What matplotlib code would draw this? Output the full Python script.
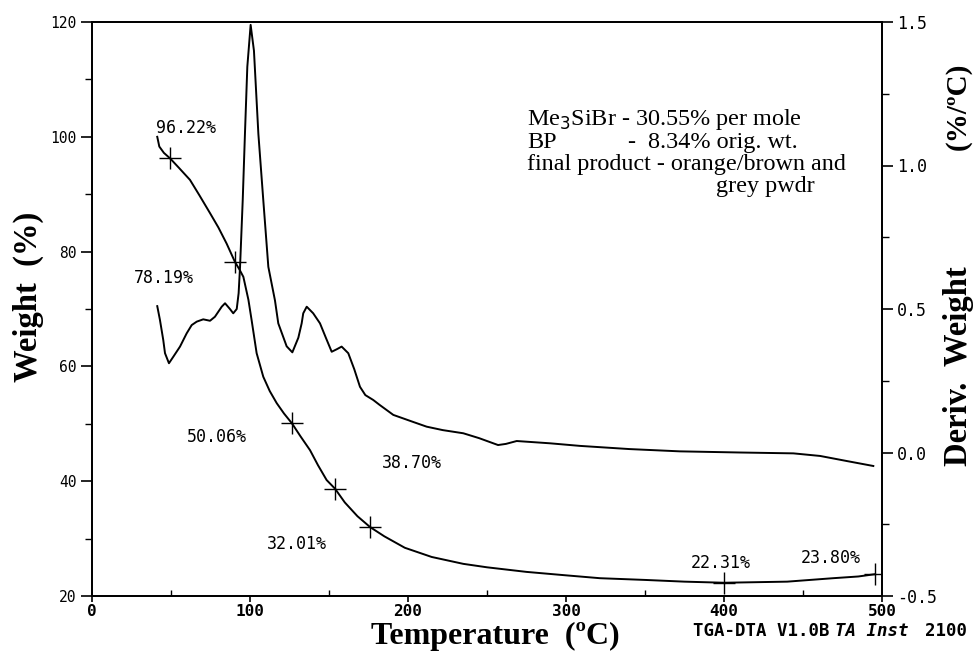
import numpy as np
import matplotlib
matplotlib.use("Agg")
import matplotlib.pyplot as plt
from matplotlib.ticker import MultipleLocator

# weight curve (left axis)
WEIGHT_T = [41.3, 42.6, 45.5, 49.5, 55, 62, 68, 74.7, 80, 85.2, 90.5, 93.5, 95.8,
            99, 101, 104.2, 108.4, 112.5, 116.9, 121.5, 126.6, 132, 138, 143,
            148.5, 153.8, 160, 168, 176, 185, 198, 215, 235, 250, 275, 300,
            321.5, 350, 375, 400, 440, 469, 485, 495.6]
WEIGHT = [100.0, 98.3, 97.2, 96.22, 94.6, 92.5, 89.8, 86.7, 84.2, 81.4, 78.19,
          76.8, 75.6, 71.6, 68.1, 62.3, 58.2, 55.7, 53.6, 51.8, 50.06, 47.8,
          45.4, 42.8, 40.2, 38.70, 36.3, 33.9, 32.01, 30.4, 28.4, 26.8, 25.6,
          25.0, 24.2, 23.6, 23.1, 22.8, 22.5, 22.31, 22.5, 23.1, 23.4, 23.8]

# derivative curve (right axis)
DERIV_T = [41.3, 43, 45.1, 46.2, 48.7, 51.5, 55.7, 59.9, 63.1, 66.3, 70.4, 74.7,
           77.8, 82.1, 84.2, 87.3, 89.4, 91.6, 92.8, 93.7, 95.4, 96.8, 98.3,
           100.4, 102.5, 105.3, 108.4, 111.6, 115.8, 117.9, 123.2, 126.8,
           130.6, 132.7, 133.7, 135.9, 140, 144.3, 148, 151.7, 155, 158, 162.2,
           166, 169.6, 173, 178, 182, 190.7, 203, 211.8, 222, 235, 245, 257,
           262, 268.8, 290, 308.9, 340, 372, 410, 443.9, 460.8, 478, 494.5]
DERIV = [0.51, 0.462, 0.392, 0.346, 0.311, 0.334, 0.369, 0.415, 0.444, 0.456,
         0.464, 0.459, 0.473, 0.508, 0.52, 0.50, 0.485, 0.50, 0.555, 0.647,
         0.88, 1.11, 1.344, 1.49, 1.40, 1.11, 0.88, 0.647, 0.53, 0.45, 0.37,
         0.349, 0.40, 0.45, 0.485, 0.508, 0.485, 0.45, 0.40, 0.351, 0.36,
         0.369, 0.346, 0.29, 0.229, 0.20, 0.183, 0.166, 0.131, 0.107, 0.09,
         0.078, 0.067, 0.05, 0.026, 0.03, 0.040, 0.032, 0.023, 0.012, 0.004,
         0.0, -0.003, -0.012, -0.03, -0.047]

# marked points and their labels
MARK_T = [49.5, 90.5, 126.6, 153.8, 176, 400, 495.6]
MARK_W = [96.22, 78.19, 50.06, 38.70, 32.01, 22.31, 23.80]
MARK_LABELS = ["96.22%", "78.19%", "50.06%", "38.70%", "32.01%", "22.31%", "23.80%"]
LABEL_T = [59.5, 45.6, 79, 202.5, 129.7, 398, 467.7]
LABEL_W = [101.5, 75.4, 47.7, 43.2, 29.1, 25.7, 26.6]

NOTE_LINES = ["Me$_3$SiBr - 30.55% per mole", "final product - orange/brown and"]

MONO = "DejaVu Sans Mono"
SERIF = "Liberation Serif"
W, H = 974, 654


def fx(px):
    return px / W


def fy(py):
    return 1 - py / H


fig = plt.figure(figsize=(9.74, 6.54), dpi=100)
ax = fig.add_axes([fx(92), fy(596), 790 / W, 574 / H])
ax2 = ax.twinx()

ax.plot(WEIGHT_T, WEIGHT, color="black", lw=1.4)
ax.plot(MARK_T, MARK_W, ls="none", marker="+", ms=16, mew=1.0, color="black")
for t, w, s in zip(LABEL_T, LABEL_W, MARK_LABELS):
    ax.text(t, w, s, family=MONO, fontsize=12, ha="center", va="center")

ax2.plot(DERIV_T, DERIV, color="black", lw=1.4)

ax.set_xlim(0, 500)
ax.set_ylim(20, 120)
ax2.set_ylim(-0.5, 1.5)

ax.xaxis.set_major_locator(MultipleLocator(100))
ax.xaxis.set_minor_locator(MultipleLocator(50))
ax.yaxis.set_major_locator(MultipleLocator(20))
ax.yaxis.set_minor_locator(MultipleLocator(10))
ax2.yaxis.set_minor_locator(MultipleLocator(0.25))
ax2.set_yticks([1.5, 1.0, 0.5, 0.0, -0.5])
ax2.set_yticklabels(["1.5", "1.0", "0.5", "0.0", "-0.5"])

for a in (ax, ax2):
    for sp in a.spines.values():
        sp.set_linewidth(1.3)

ax.tick_params(axis="y", which="major", direction="out", length=8, width=1.2,
               labelsize=10.5, pad=3)
ax.tick_params(axis="y", which="minor", direction="out", length=5, width=1.0)
ax.tick_params(axis="x", which="major", direction="out", length=4, width=1.2,
               labelsize=11.5, pad=2)
ax.tick_params(axis="x", which="minor", direction="in", length=4, width=1.0)
ax2.tick_params(axis="y", which="major", direction="out", length=8, width=1.2,
                labelsize=12, pad=3)
ax2.tick_params(axis="y", which="minor", direction="out", length=5, width=1.0)

for lab in ax.get_yticklabels():
    lab.set_family(MONO)
for lab in ax.get_xticklabels():
    lab.set_family(MONO)
    lab.set_fontweight("bold")
for lab in ax2.get_yticklabels():
    lab.set_family(MONO)

# axis titles
fig.text(fx(495), fy(644), "Temperature  (ºC)", family=SERIF, fontweight="bold",
         fontsize=23, ha="center", va="baseline")
fig.text(fx(28), fy(297), "Weight  (%)", family=SERIF, fontweight="bold",
         fontsize=23.5, ha="center", va="center", rotation=90)
fig.text(fx(958), fy(366), "Deriv.  Weight", family=SERIF,
         fontweight="bold", fontsize=23.5, ha="center", va="center",
         rotation=90)
fig.text(fx(958), fy(106), "(%/ºC)", family=SERIF,
         fontweight="bold", fontsize=21, ha="center", va="center",
         rotation=90)

# notes in the upper right
fig.text(fx(527), fy(125), NOTE_LINES[0], family=SERIF, fontsize=17.4,
         ha="left", va="baseline")
fig.text(fx(527), fy(148), "BP", family=SERIF, fontsize=17.4,
         ha="left", va="baseline")
fig.text(fx(628), fy(148), "-  8.34% orig. wt.", family=SERIF,
         fontsize=17.4, ha="left", va="baseline")
fig.text(fx(527), fy(170), NOTE_LINES[1], family=SERIF, fontsize=17.4,
         ha="left", va="baseline")
fig.text(fx(815), fy(192), "grey pwdr", family=SERIF, fontsize=17.4,
         ha="right", va="baseline")

# instrument footer
fig.text(fx(693), fy(631), "TGA-DTA V1.0B", family=MONO,
         fontweight="bold", fontsize=12.5, ha="left", va="center")
fig.text(fx(835), fy(631), "TA Inst", family=MONO, fontweight="bold",
         fontsize=12.5, ha="left", va="center", style="italic")
fig.text(fx(925), fy(631), "2100", family=MONO, fontweight="bold",
         fontsize=12.5, ha="left", va="center")

fig.savefig("out.png", dpi=100)
